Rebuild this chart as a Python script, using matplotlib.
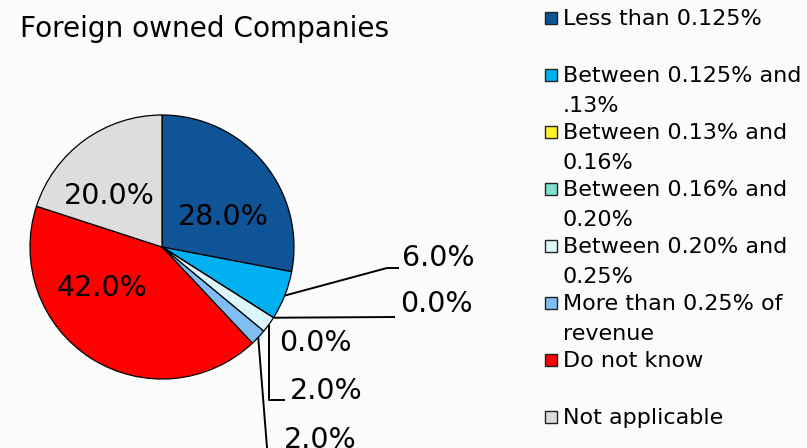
import matplotlib
matplotlib.use("Agg")
import matplotlib.pyplot as plt
from matplotlib.patches import Rectangle
import numpy as np

plt.rcParams['font.family'] = ['DejaVu Sans']

title = "Foreign owned Companies"
categories = ["Less than 0.125%", "Between 0.125% and\n.13%", "Between 0.13% and\n0.16%",
              "Between 0.16% and\n0.20%", "Between 0.20% and\n0.25%", "More than 0.25% of\nrevenue",
              "Do not know", "Not applicable"]
values = [28.0, 6.0, 0.0, 0.0, 2.0, 2.0, 42.0, 20.0]
colors = ["#0E5496", "#00B0F0", "#FFF22A", "#80E0D0", "#DDF6FA", "#7FBDF2", "#FF0000", "#DDDDDD"]

W, H = 807, 448
DPI = 100
fig = plt.figure(figsize=(W / DPI, H / DPI), dpi=DPI)
fig.patch.set_facecolor("#fbfbfb")

# pie geometry in pixels
cx, cy, R = 162, 247, 132
ax = fig.add_axes([0, 0, 1, 1])

wedges, _ = ax.pie(values, colors=colors, startangle=90, counterclock=False, radius=1.0,
                   wedgeprops=dict(edgecolor="black", linewidth=0.9))
ax.set_xlim(-cx / R, (W - cx) / R)
ax.set_ylim(-(H - cy) / R, cy / R)
ax.set_aspect("equal")
ax.axis("off")

def px(x, y):
    return ((x - cx) / R, (cy - y) / R)

# label layout (pixel positions of text centres)
label_pos = [(223, 217), (438, 258), (436, 304), (315, 343), (326, 391), (320, 440), (102, 288), (109, 196)]
fs = 20.5
for v, (lx, ly) in zip(values, label_pos):
    x, y = px(lx, ly)
    ax.text(x, y, f"{v:.1f}%", ha="center", va="center", fontsize=fs, color="black")

# leader lines: start at wedge mid-angle on the edge
def edge_point(i):
    w = wedges[i]
    ang = np.deg2rad((w.theta1 + w.theta2) / 2)
    return np.cos(ang), np.sin(ang)

leaders = {
    1: [px(387, 268), px(399, 268)],
    2: [px(395, 317)],
    4: "vert",
    5: [px(268, 460), px(283, 460)],
}
for i, pts in leaders.items():
    x0, y0 = edge_point(i)
    if pts == "vert":
        p1 = px(285, 400)
        xs = [x0, x0, p1[0]]
        ys = [y0, p1[1], p1[1]]
    else:
        xs = [x0] + [p[0] for p in pts]
        ys = [y0] + [p[1] for p in pts]
    ax.plot(xs, ys, color="black", linewidth=1.4, solid_capstyle="butt")

# title
fig.text(20 / W, 1 - 37 / H, title, ha="left", va="baseline", fontsize=20.2, color="black")

# legend
lx_sq, lx_txt = 545, 563
base0, step = 26, 57
sq = 12
for i, (lab, col) in enumerate(zip(categories, colors)):
    b = base0 + step * i
    cy_sq = b - 8
    fig.patches.append(Rectangle(((lx_sq) / W, 1 - (cy_sq + sq / 2) / H), sq / W, sq / H,
                                 transform=fig.transFigure, facecolor=col, edgecolor="#222222",
                                 linewidth=1.0))
    fig.text(lx_txt / W, 1 - (b - 17) / H, lab, ha="left", va="top", fontsize=16,
             linespacing=1.6, color="black")

fig.savefig("out.png", dpi=DPI, facecolor=fig.get_facecolor())
